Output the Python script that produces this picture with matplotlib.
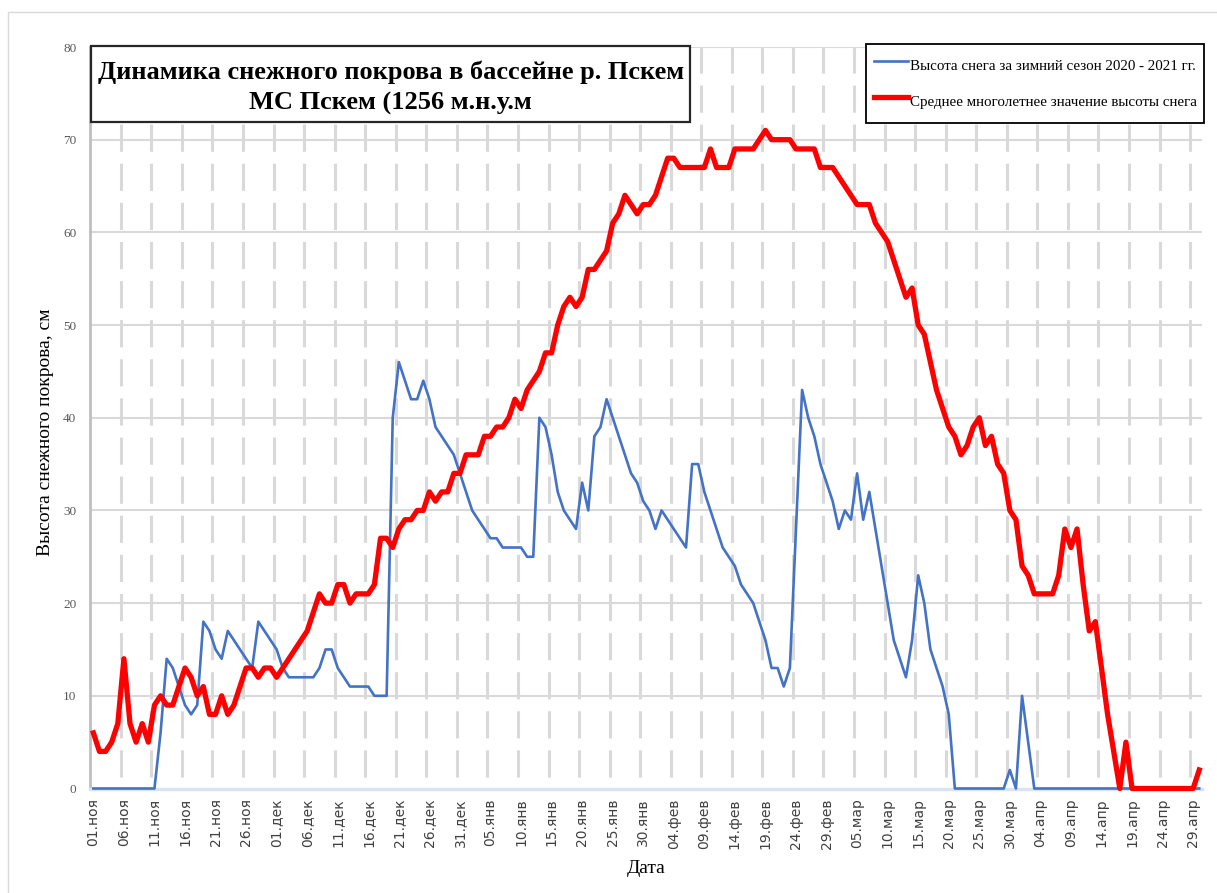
import matplotlib
matplotlib.use("Agg")
import matplotlib.pyplot as plt
from matplotlib.patches import Rectangle
import numpy as np

# подписи оси X (каждые 5 дней, сезон с 29 февраля)
tick_labels = ['01.ноя', '06.ноя', '11.ноя', '16.ноя', '21.ноя', '26.ноя',
               '01.дек', '06.дек', '11.дек', '16.дек', '21.дек', '26.дек', '31.дек',
               '05.янв', '10.янв', '15.янв', '20.янв', '25.янв', '30.янв',
               '04.фев', '09.фев', '14.фев', '19.фев', '24.фев', '29.фев',
               '05.мар', '10.мар', '15.мар', '20.мар', '25.мар', '30.мар',
               '04.апр', '09.апр', '14.апр', '19.апр', '24.апр', '29.апр']

# высота снега за сезон 2020-2021, см (01.11 - 30.04)
snow_2020_2021 = [0, 0, 0, 0, 0, 0, 0, 0, 0, 0,
                  0, 6, 14, 13, 11, 9, 8, 9, 18, 17,
                  15, 14, 17, 16, 15, 14, 13, 18, 17, 16,
                  15, 13, 12, 12, 12, 12, 12, 13, 15, 15,
                  13, 12, 11, 11, 11, 11, 10, 10, 10, 40,
                  46, 44, 42, 42, 44, 42, 39, 38, 37, 36,
                  34, 32, 30, 29, 28, 27, 27, 26, 26, 26,
                  26, 25, 25, 40, 39, 36, 32, 30, 29, 28,
                  33, 30, 38, 39, 42, 40, 38, 36, 34, 33,
                  31, 30, 28, 30, 29, 28, 27, 26, 35, 35,
                  32, 30, 28, 26, 25, 24, 22, 21, 20, 18,
                  16, 13, 13, 11, 13, 28, 43, 40, 38, 35,
                  33, 31, 28, 30, 29, 34, 29, 32, 28, 24,
                  20, 16, 14, 12, 16, 23, 20, 15, 13, 11,
                  8, 0, 0, 0, 0, 0, 0, 0, 0, 0,
                  2, 0, 10, 5, 0, 0, 0, 0, 0, 0,
                  0, 0, 0, 0, 0, 0, 0, 0, 0, 0,
                  0, 0, 0, 0, 0, 0, 0, 0, 0, 0,
                  0, 0]

# среднее многолетнее значение высоты снега, см
snow_mean = [6, 4, 4, 5, 7, 14, 7, 5, 7, 5,
             9, 10, 9, 9, 11, 13, 12, 10, 11, 8,
             8, 10, 8, 9, 11, 13, 13, 12, 13, 13,
             12, 13, 14, 15, 16, 17, 19, 21, 20, 20,
             22, 22, 20, 21, 21, 21, 22, 27, 27, 26,
             28, 29, 29, 30, 30, 32, 31, 32, 32, 34,
             34, 36, 36, 36, 38, 38, 39, 39, 40, 42,
             41, 43, 44, 45, 47, 47, 50, 52, 53, 52,
             53, 56, 56, 57, 58, 61, 62, 64, 63, 62,
             63, 63, 64, 66, 68, 68, 67, 67, 67, 67,
             67, 69, 67, 67, 67, 69, 69, 69, 69, 70,
             71, 70, 70, 70, 70, 69, 69, 69, 69, 67,
             67, 67, 66, 65, 64, 63, 63, 63, 61, 60,
             59, 57, 55, 53, 54, 50, 49, 46, 43, 41,
             39, 38, 36, 37, 39, 40, 37, 38, 35, 34,
             30, 29, 24, 23, 21, 21, 21, 21, 23, 28,
             26, 28, 22, 17, 18, 13, 8, 4, 0, 5,
             0, 0, 0, 0, 0, 0, 0, 0, 0, 0,
             0, 2]

W, H = 1217, 893
fig = plt.figure(figsize=(W / 100, H / 100), dpi=100)
ax = fig.add_axes([90.3 / W, 104.5 / H, 1112 / W, 741.5 / H])

days = np.arange(len(snow_mean))
ax.set_xlim(-0.5, len(days) - 0.5)
ax.set_ylim(0, 80)

# сетка: сплошные горизонтальные, штриховые вертикальные по границам категорий
for y in range(10, 81, 10):
    ax.axhline(y, color='#d9d9d9', lw=1.5, zorder=0)
for x in np.arange(4.5, len(days) - 1, 5):
    ax.axvline(x, color='#d9d9d9', lw=2.2, linestyle=(8.9, (8.9, 3.9)), zorder=0)

ax.plot(days, snow_2020_2021, color='#4472c4', lw=1.9, zorder=3, clip_on=False,
        label='Высота снега за зимний сезон 2020 - 2021 гг.')
ax.plot(days, snow_mean, color='#ff0000', lw=3.8, zorder=4, clip_on=False,
        solid_joinstyle='round', label='Среднее многолетнее значение высоты снега')

for side in ('top', 'right'):
    ax.spines[side].set_visible(False)
ax.spines['left'].set_color('#bfbfbf')
ax.spines['left'].set_linewidth(2)
ax.spines['bottom'].set_color('#dae3f3')
ax.spines['bottom'].set_linewidth(2.5)

ax.set_yticks(range(0, 81, 10))
ax.set_yticklabels([str(v) for v in range(0, 81, 10)], family='Liberation Serif')
ax.tick_params(axis='y', length=0, pad=10, labelsize=9.5, labelcolor='#595959')
ax.set_xticks(range(0, len(days), 5))
ax.set_xticklabels(tick_labels, rotation=90, family='DejaVu Sans')
ax.tick_params(axis='x', length=0, pad=7, labelsize=10, labelcolor='#404040')

ax.set_ylabel('Высота снежного покрова, см', family='Liberation Serif', fontsize=14)
ax.yaxis.set_label_coords(-0.0326, 0.48)
ax.set_xlabel('Дата', family='Liberation Serif', fontsize=14)
ax.xaxis.set_label_coords(0.5, -0.096)

leg = ax.legend(loc='upper left', bbox_to_anchor=(866 / W, 1 - 44 / H),
                bbox_transform=fig.transFigure, borderaxespad=0, frameon=True,
                fancybox=False, framealpha=1, edgecolor='black', borderpad=0.5,
                labelspacing=0.5, handleheight=2.5, handlelength=2.3,
                handletextpad=0.1,
                prop={'family': 'Liberation Serif', 'size': 10.85})
leg.get_frame().set_linewidth(1.3)

# рамка с заголовком
fig.add_artist(Rectangle((91 / W, 1 - 122 / H), 599 / W, 76 / H,
                         transform=fig.transFigure, facecolor='white',
                         edgecolor='#262626', lw=1.6, zorder=5))
fig.text(391 / W, 1 - 72 / H, 'Динамика снежного покрова в бассейне р. Пскем',
         ha='center', va='center', family='Liberation Serif', fontsize=19,
         fontweight='bold', zorder=6)
fig.text(390 / W, 1 - 103 / H, 'МС Пскем (1256 м.н.у.м',
         ha='center', va='center', family='Liberation Serif', fontsize=19,
         fontweight='bold', zorder=6)

# внешняя рамка диаграммы
fig.add_artist(Rectangle((8 / W, -0.1), 1.2, 1 - 12 / H + 0.1,
                         transform=fig.transFigure, facecolor='none',
                         edgecolor='#d9d9d9', lw=1, zorder=0))

fig.savefig('out.png', dpi=100)
